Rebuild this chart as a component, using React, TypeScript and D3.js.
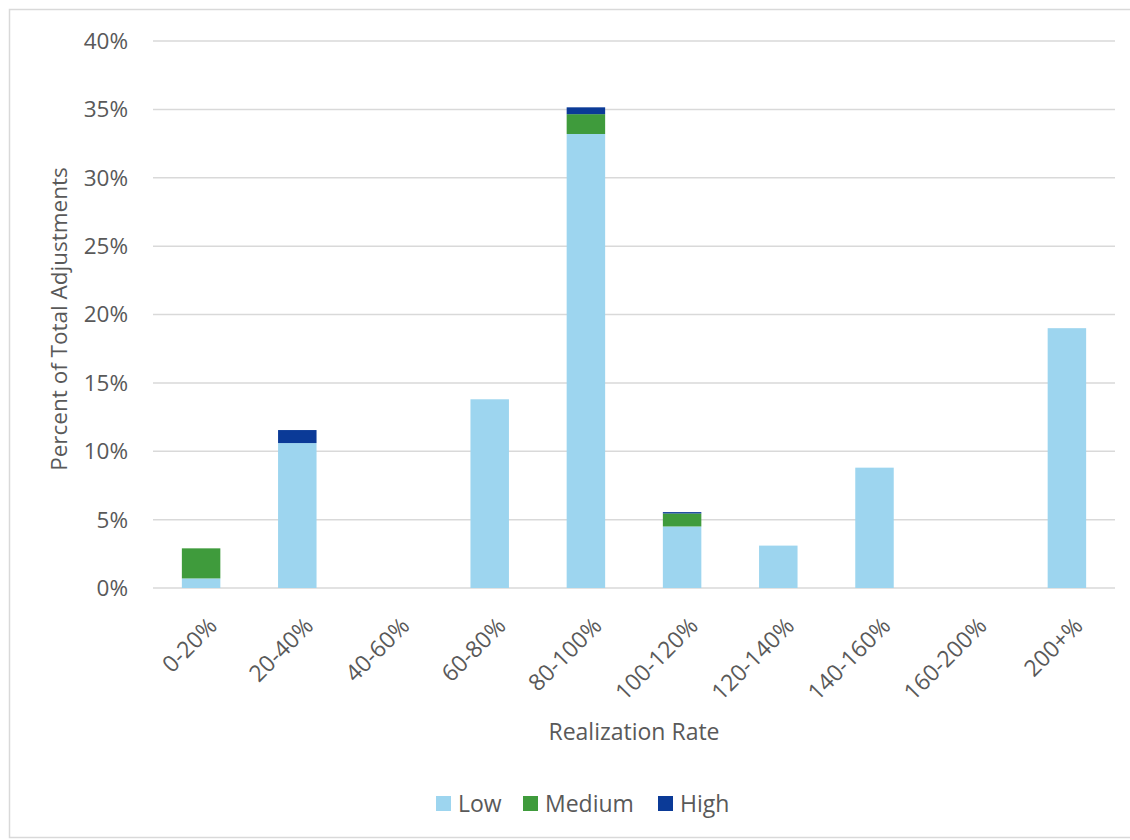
import React from "react";
import * as d3 from "d3";

const categories = ["0-20%", "20-40%", "40-60%", "60-80%", "80-100%", "100-120%", "120-140%", "140-160%", "160-200%", "200+%"];
const lowValues = [0.7, 10.6, 0, 13.8, 33.2, 4.5, 3.1, 8.8, 0, 19.0];
const mediumValues = [2.2, 0, 0, 0, 1.45, 0.95, 0, 0, 0, 0];
const highValues = [0, 0.95, 0, 0, 0.5, 0.1, 0, 0, 0, 0];
const seriesNames = ["Low", "Medium", "High"];
const yTicks = [0, 5, 10, 15, 20, 25, 30, 35, 40];

const colors = ["#9dd5ef", "#3f9b3c", "#0b3a97"];
const FONT = "'Open Sans', 'Noto Sans', sans-serif";

export default function App() {
  const W = 1130, H = 840;
  const left = 153, right = 1115, top = 41, bottom = 588;
  const x = d3.scaleBand().domain(categories).range([left, right]).paddingInner(0.6).paddingOuter(0.3);
  const y = d3.scaleLinear().domain([0, 40]).range([bottom, top]);

  const table = categories.map((c, i) => ({ cat: c, Low: lowValues[i], Medium: mediumValues[i], High: highValues[i] }));
  const stacked = d3.stack().keys(seriesNames)(table as any);

  const legendItems = [
    { name: "Low", x: 436 },
    { name: "Medium", x: 523 },
    { name: "High", x: 658 },
  ];

  return (
    <svg width={W} height={H} style={{ position: "absolute", left: 0, top: 0 }}>
      <rect x={0} y={0} width={W} height={H} fill="#fff" />
      <rect x={9.5} y={9.5} width={1130} height={828} fill="none" stroke="#d9d9d9" strokeWidth={1.5} />
      {yTicks.map((t) => (
        <g key={t}>
          <line x1={left} x2={right} y1={y(t)} y2={y(t)} stroke="#d9d9d9" strokeWidth={1.5} />
          <text x={128} y={y(t)} dy="0.35em" textAnchor="end" fontSize={22.5} fill="#595959" fontFamily={FONT}>
            {t}%
          </text>
        </g>
      ))}
      {stacked.map((s, si) => (
        <g key={si} fill={colors[si]}>
          {s.map((d, i) =>
            d[1] - d[0] > 0 ? (
              <rect key={i} x={x(categories[i])} width={x.bandwidth()} y={y(d[1])} height={y(d[0]) - y(d[1])} />
            ) : null
          )}
        </g>
      ))}
      {categories.map((c) => {
        const cx = (x(c) as number) + x.bandwidth() / 2;
        return (
          <text
            key={c}
            transform={`translate(${cx + 6},${616}) rotate(-45)`}
            textAnchor="end"
            dy="0.7em"
            fontSize={23}
            fill="#595959"
            fontFamily={FONT}
          >
            {c}
          </text>
        );
      })}
      <text x={634} y={740} textAnchor="middle" fontSize={23} fill="#595959" fontFamily={FONT}>
        Realization Rate
      </text>
      <text transform={`translate(67,${319}) rotate(-90)`} textAnchor="middle" fontSize={22.5} fill="#595959" fontFamily={FONT}>
        Percent of Total Adjustments
      </text>
      {legendItems.map((l, i) => (
        <g key={l.name}>
          <rect x={l.x} y={796} width={15} height={15} fill={colors[i]} />
          <text x={l.x + 22} y={804} dy="0.35em" fontSize={23} fill="#595959" fontFamily={FONT}>
            {l.name}
          </text>
        </g>
      ))}
    </svg>
  );
}
